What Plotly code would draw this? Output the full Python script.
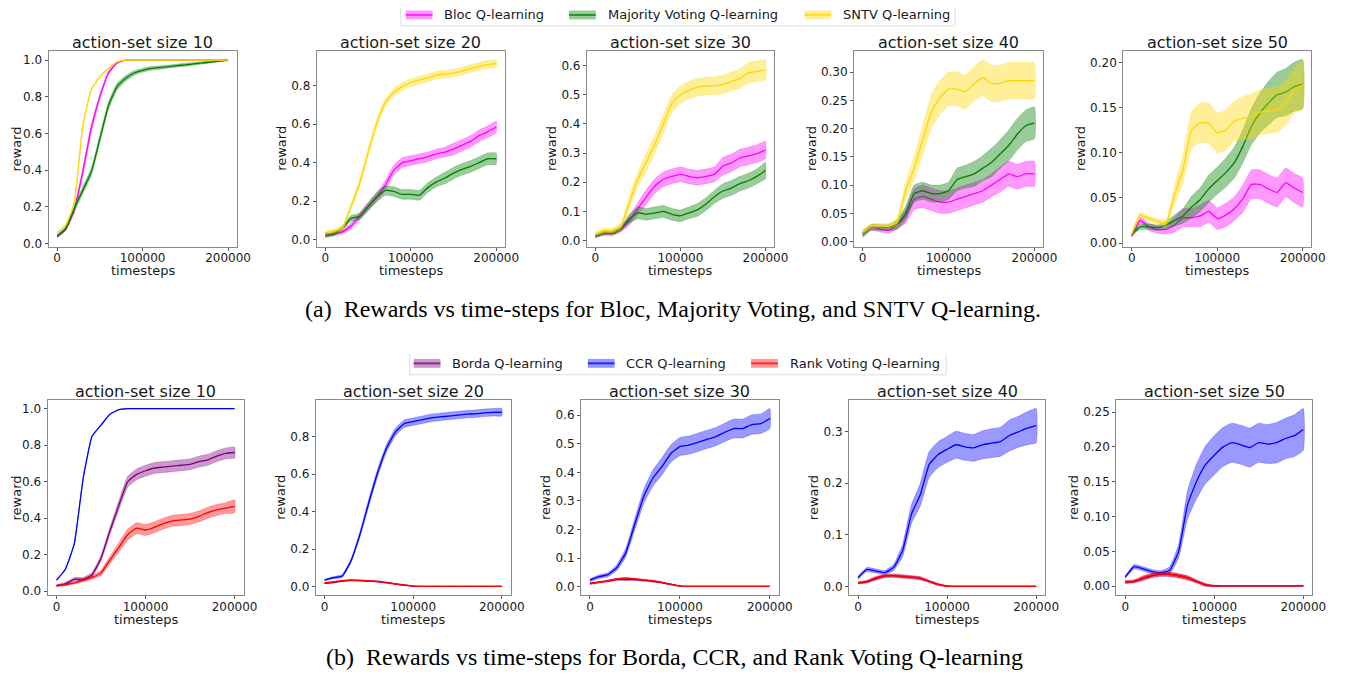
import plotly.graph_objects as go

W, H = 1354, 675
OFF = 8  # browser body margin

# ---------------- data ----------------
X = [0, 10000, 20000, 30000, 40000, 50000, 60000, 70000, 80000, 90000, 100000,
     110000, 120000, 130000, 140000, 150000, 160000, 170000, 180000, 190000, 200000]
X_TICKS = [0, 100000, 200000]
X_TICKTEXT = ["0", "100000", "200000"]

# ---- row (a): Bloc / Majority Voting / SNTV ----
A10_BLOC = [0.04, 0.08, 0.18, 0.39, 0.63, 0.80, 0.93, 0.985, 1.0, 1.0, 1.0, 1.0, 1.0, 1.0, 1.0, 1.0, 1.0, 1.0, 1.0, 1.0, 1.0]
A10_BLOC_E = [0.008, 0.01, 0.015, 0.02, 0.02, 0.015, 0.01, 0.005, 0.002, 0.002, 0.002, 0.002, 0.002, 0.002, 0.002, 0.002, 0.002, 0.002, 0.002, 0.002, 0.002]
A10_MAJ = [0.04, 0.08, 0.19, 0.29, 0.39, 0.57, 0.75, 0.855, 0.90, 0.93, 0.945, 0.955, 0.96, 0.965, 0.97, 0.975, 0.98, 0.985, 0.99, 0.995, 1.0]
A10_MAJ_E = [0.008, 0.01, 0.015, 0.02, 0.02, 0.02, 0.02, 0.018, 0.015, 0.012, 0.01, 0.01, 0.01, 0.008, 0.008, 0.008, 0.007, 0.006, 0.005, 0.004, 0.003]
A10_SNTV = [0.06, 0.10, 0.22, 0.64, 0.84, 0.91, 0.955, 0.99, 1.0, 1.0, 1.0, 1.0, 1.0, 1.0, 1.0, 1.0, 1.0, 1.0, 1.0, 1.0, 1.0]
A10_SNTV_E = [0.003, 0.003, 0.003, 0.003, 0.003, 0.003, 0.003, 0.002, 0.001, 0.001, 0.001, 0.001, 0.001, 0.001, 0.001, 0.001, 0.001, 0.001, 0.001, 0.001, 0.001]

A20_BLOC = [0.025, 0.03, 0.04, 0.07, 0.12, 0.17, 0.22, 0.28, 0.36, 0.40, 0.41, 0.42, 0.43, 0.445, 0.455, 0.47, 0.49, 0.51, 0.54, 0.56, 0.585]
A20_BLOC_E = [0.01, 0.01, 0.01, 0.015, 0.02, 0.02, 0.02, 0.025, 0.025, 0.025, 0.025, 0.025, 0.025, 0.025, 0.025, 0.03, 0.03, 0.03, 0.03, 0.03, 0.03]
A20_MAJ = [0.02, 0.03, 0.06, 0.11, 0.12, 0.17, 0.22, 0.255, 0.25, 0.235, 0.235, 0.23, 0.27, 0.30, 0.32, 0.345, 0.365, 0.38, 0.40, 0.42, 0.42]
A20_MAJ_E = [0.01, 0.01, 0.012, 0.015, 0.015, 0.02, 0.025, 0.025, 0.025, 0.025, 0.025, 0.025, 0.025, 0.025, 0.03, 0.03, 0.03, 0.03, 0.03, 0.03, 0.03]
A20_SNTV = [0.035, 0.045, 0.06, 0.17, 0.29, 0.45, 0.60, 0.71, 0.765, 0.795, 0.815, 0.83, 0.84, 0.855, 0.86, 0.865, 0.875, 0.89, 0.90, 0.91, 0.915]
A20_SNTV_E = [0.01, 0.01, 0.01, 0.015, 0.02, 0.02, 0.02, 0.02, 0.02, 0.02, 0.02, 0.02, 0.02, 0.02, 0.02, 0.02, 0.02, 0.02, 0.02, 0.02, 0.02]

A30_BLOC = [0.015, 0.025, 0.025, 0.04, 0.068, 0.11, 0.15, 0.187, 0.21, 0.22, 0.227, 0.22, 0.215, 0.22, 0.227, 0.255, 0.266, 0.283, 0.29, 0.298, 0.31]
A30_BLOC_E = [0.005, 0.008, 0.008, 0.01, 0.015, 0.02, 0.025, 0.025, 0.025, 0.025, 0.025, 0.025, 0.025, 0.025, 0.025, 0.03, 0.03, 0.03, 0.03, 0.03, 0.03]
A30_MAJ = [0.015, 0.025, 0.025, 0.04, 0.075, 0.095, 0.09, 0.095, 0.10, 0.09, 0.085, 0.095, 0.105, 0.125, 0.15, 0.17, 0.18, 0.195, 0.205, 0.22, 0.24]
A30_MAJ_E = [0.005, 0.005, 0.005, 0.008, 0.015, 0.02, 0.02, 0.02, 0.02, 0.02, 0.02, 0.02, 0.022, 0.022, 0.022, 0.025, 0.025, 0.025, 0.025, 0.025, 0.028]
A30_SNTV = [0.023, 0.034, 0.034, 0.05, 0.13, 0.21, 0.27, 0.33, 0.40, 0.47, 0.50, 0.515, 0.525, 0.53, 0.53, 0.535, 0.545, 0.555, 0.575, 0.58, 0.585]
A30_SNTV_E = [0.008, 0.008, 0.008, 0.01, 0.02, 0.025, 0.03, 0.03, 0.03, 0.03, 0.03, 0.03, 0.03, 0.03, 0.03, 0.032, 0.032, 0.032, 0.035, 0.035, 0.035]

A40_BLOC = [0.015, 0.025, 0.022, 0.02, 0.03, 0.045, 0.075, 0.08, 0.075, 0.07, 0.07, 0.075, 0.08, 0.085, 0.09, 0.10, 0.11, 0.12, 0.115, 0.12, 0.12]
A40_BLOC_E = [0.005, 0.005, 0.005, 0.005, 0.008, 0.012, 0.018, 0.02, 0.02, 0.02, 0.02, 0.02, 0.02, 0.02, 0.02, 0.02, 0.022, 0.022, 0.022, 0.022, 0.022]
A40_MAJ = [0.012, 0.025, 0.025, 0.025, 0.03, 0.05, 0.085, 0.09, 0.085, 0.085, 0.09, 0.11, 0.115, 0.12, 0.13, 0.14, 0.155, 0.17, 0.19, 0.205, 0.21]
A40_MAJ_E = [0.005, 0.005, 0.005, 0.005, 0.008, 0.012, 0.015, 0.015, 0.015, 0.015, 0.015, 0.02, 0.02, 0.022, 0.022, 0.025, 0.025, 0.027, 0.028, 0.028, 0.028]
A40_SNTV = [0.016, 0.028, 0.028, 0.028, 0.035, 0.09, 0.13, 0.18, 0.23, 0.255, 0.27, 0.27, 0.265, 0.28, 0.29, 0.28, 0.28, 0.285, 0.285, 0.285, 0.285]
A40_SNTV_E = [0.004, 0.004, 0.004, 0.004, 0.006, 0.015, 0.02, 0.025, 0.03, 0.03, 0.03, 0.03, 0.03, 0.03, 0.032, 0.032, 0.032, 0.032, 0.032, 0.032, 0.032]

A50_BLOC = [0.008, 0.025, 0.018, 0.015, 0.015, 0.02, 0.028, 0.028, 0.03, 0.035, 0.027, 0.031, 0.038, 0.049, 0.065, 0.065, 0.06, 0.056, 0.067, 0.061, 0.056]
A50_BLOC_E = [0.002, 0.003, 0.004, 0.004, 0.005, 0.008, 0.01, 0.01, 0.012, 0.012, 0.012, 0.013, 0.013, 0.015, 0.016, 0.016, 0.016, 0.016, 0.016, 0.016, 0.016]
A50_MAJ = [0.01, 0.018, 0.018, 0.017, 0.02, 0.025, 0.03, 0.04, 0.048, 0.06, 0.069, 0.078, 0.089, 0.107, 0.129, 0.144, 0.155, 0.164, 0.167, 0.173, 0.176]
A50_MAJ_E = [0.002, 0.003, 0.003, 0.003, 0.004, 0.006, 0.008, 0.012, 0.013, 0.015, 0.015, 0.016, 0.017, 0.018, 0.02, 0.022, 0.024, 0.025, 0.026, 0.027, 0.027]
A50_SNTV = [0.01, 0.031, 0.027, 0.024, 0.022, 0.053, 0.082, 0.125, 0.133, 0.133, 0.122, 0.125, 0.135, 0.138, 0.14, 0.145, 0.146, 0.148, 0.155, 0.169, 0.175]
A50_SNTV_E = [0.002, 0.003, 0.003, 0.003, 0.004, 0.01, 0.015, 0.02, 0.022, 0.022, 0.022, 0.022, 0.022, 0.024, 0.025, 0.025, 0.025, 0.025, 0.025, 0.025, 0.027]

# ---- row (b): Borda / CCR / Rank Voting ----
B10_BORDA = [0.03, 0.04, 0.065, 0.065, 0.09, 0.18, 0.33, 0.47, 0.60, 0.64, 0.66, 0.675, 0.68, 0.685, 0.69, 0.695, 0.71, 0.72, 0.74, 0.755, 0.76]
B10_BORDA_E = [0.005, 0.008, 0.01, 0.01, 0.012, 0.015, 0.02, 0.025, 0.03, 0.03, 0.03, 0.03, 0.03, 0.03, 0.03, 0.03, 0.03, 0.03, 0.03, 0.03, 0.03]
B10_CCR = [0.06, 0.12, 0.26, 0.62, 0.85, 0.91, 0.97, 0.995, 1.0, 1.0, 1.0, 1.0, 1.0, 1.0, 1.0, 1.0, 1.0, 1.0, 1.0, 1.0, 1.0]
B10_CCR_E = [0.002, 0.002, 0.002, 0.002, 0.002, 0.002, 0.002, 0.001, 0.001, 0.001, 0.001, 0.001, 0.001, 0.001, 0.001, 0.001, 0.001, 0.001, 0.001, 0.001, 0.001]
B10_RANK = [0.03, 0.035, 0.045, 0.06, 0.075, 0.10, 0.17, 0.24, 0.31, 0.345, 0.335, 0.35, 0.37, 0.385, 0.39, 0.395, 0.41, 0.43, 0.445, 0.455, 0.465]
B10_RANK_E = [0.004, 0.005, 0.006, 0.008, 0.01, 0.015, 0.02, 0.025, 0.03, 0.03, 0.03, 0.03, 0.03, 0.03, 0.03, 0.03, 0.03, 0.03, 0.03, 0.03, 0.035]

B20_BORDA = [0.018, 0.022, 0.03, 0.033, 0.032, 0.03, 0.027, 0.021, 0.014, 0.008, 0.003, 0.001, 0.001, 0.001, 0.001, 0.001, 0.001, 0.001, 0.001, 0.001, 0.001]
B20_CCR = [0.035, 0.048, 0.057, 0.14, 0.28, 0.45, 0.61, 0.74, 0.825, 0.87, 0.88, 0.89, 0.90, 0.905, 0.91, 0.915, 0.92, 0.922, 0.927, 0.93, 0.93]
B20_CCR_E = [0.005, 0.006, 0.008, 0.01, 0.015, 0.02, 0.02, 0.02, 0.02, 0.02, 0.02, 0.02, 0.02, 0.02, 0.02, 0.02, 0.02, 0.02, 0.02, 0.02, 0.02]
B20_RANK = [0.02, 0.025, 0.032, 0.035, 0.033, 0.03, 0.028, 0.022, 0.015, 0.008, 0.003, 0.001, 0.001, 0.001, 0.001, 0.001, 0.001, 0.001, 0.001, 0.001, 0.001]

B30_BORDA = [0.012, 0.016, 0.02, 0.025, 0.025, 0.025, 0.022, 0.019, 0.014, 0.008, 0.002, 0.001, 0.001, 0.001, 0.001, 0.001, 0.001, 0.001, 0.001, 0.001, 0.001]
B30_CCR = [0.023, 0.035, 0.042, 0.067, 0.12, 0.22, 0.317, 0.38, 0.42, 0.466, 0.49, 0.495, 0.505, 0.515, 0.525, 0.54, 0.553, 0.553, 0.567, 0.57, 0.588]
B30_CCR_E = [0.005, 0.006, 0.007, 0.01, 0.015, 0.02, 0.025, 0.028, 0.03, 0.03, 0.032, 0.032, 0.032, 0.032, 0.032, 0.032, 0.033, 0.033, 0.034, 0.034, 0.035]
B30_RANK = [0.01, 0.015, 0.02, 0.027, 0.03, 0.027, 0.023, 0.02, 0.015, 0.008, 0.002, 0.001, 0.001, 0.001, 0.001, 0.001, 0.001, 0.001, 0.001, 0.001, 0.001]

B40_BORDA = [0.007, 0.009, 0.015, 0.02, 0.021, 0.019, 0.018, 0.016, 0.01, 0.004, 0.001, 0.0005, 0.0005, 0.0005, 0.0005, 0.0005, 0.0005, 0.0005, 0.0005, 0.0005, 0.0005]
B40_CCR = [0.017, 0.033, 0.03, 0.027, 0.037, 0.069, 0.14, 0.178, 0.236, 0.255, 0.265, 0.274, 0.27, 0.268, 0.274, 0.277, 0.28, 0.292, 0.299, 0.306, 0.311]
B40_CCR_E = [0.003, 0.004, 0.004, 0.004, 0.006, 0.012, 0.018, 0.022, 0.025, 0.025, 0.025, 0.026, 0.026, 0.026, 0.027, 0.028, 0.028, 0.03, 0.03, 0.032, 0.033]
B40_RANK = [0.007, 0.01, 0.017, 0.021, 0.021, 0.02, 0.018, 0.016, 0.01, 0.004, 0.001, 0.0005, 0.0005, 0.0005, 0.0005, 0.0005, 0.0005, 0.0005, 0.0005, 0.0005, 0.0005]

B50_BORDA = [0.006, 0.007, 0.011, 0.015, 0.017, 0.017, 0.015, 0.012, 0.007, 0.002, 0.0005, 0.0005, 0.0005, 0.0005, 0.0005, 0.0005, 0.0005, 0.0005, 0.0005, 0.0005, 0.0005]
B50_CCR = [0.013, 0.028, 0.025, 0.021, 0.019, 0.023, 0.05, 0.117, 0.15, 0.174, 0.188, 0.20, 0.206, 0.203, 0.199, 0.206, 0.204, 0.206, 0.212, 0.216, 0.225]
B50_CCR_E = [0.002, 0.003, 0.003, 0.003, 0.003, 0.005, 0.01, 0.02, 0.025, 0.027, 0.028, 0.028, 0.028, 0.028, 0.028, 0.028, 0.028, 0.029, 0.029, 0.03, 0.03]
B50_RANK = [0.006, 0.007, 0.012, 0.016, 0.018, 0.017, 0.015, 0.012, 0.007, 0.002, 0.0005, 0.0005, 0.0005, 0.0005, 0.0005, 0.0005, 0.0005, 0.0005, 0.0005, 0.0005, 0.0005]

# small bands for the near-zero curves (row b)
SMALL_E = [0.002, 0.002, 0.003, 0.003, 0.003, 0.003, 0.003, 0.003, 0.002, 0.002, 0.001, 0.0005, 0.0005, 0.0005, 0.0005, 0.0005, 0.0005, 0.0005, 0.0005, 0.0005, 0.0005]

TITLES = ["action-set size 10", "action-set size 20", "action-set size 30",
          "action-set size 40", "action-set size 50"]

YT_A = [["0.0", "0.2", "0.4", "0.6", "0.8", "1.0"],
        ["0.0", "0.2", "0.4", "0.6", "0.8"],
        ["0.0", "0.1", "0.2", "0.3", "0.4", "0.5", "0.6"],
        ["0.00", "0.05", "0.10", "0.15", "0.20", "0.25", "0.30"],
        ["0.00", "0.05", "0.10", "0.15", "0.20"]]
YT_B = [["0.0", "0.2", "0.4", "0.6", "0.8", "1.0"],
        ["0.0", "0.2", "0.4", "0.6", "0.8"],
        ["0.0", "0.1", "0.2", "0.3", "0.4", "0.5", "0.6"],
        ["0.0", "0.1", "0.2", "0.3"],
        ["0.00", "0.05", "0.10", "0.15", "0.20", "0.25"]]

NAMES_A = ["Bloc Q-learning", "Majority Voting Q-learning", "SNTV Q-learning"]
NAMES_B = ["Borda Q-learning", "CCR Q-learning", "Rank Voting Q-learning"]
CAPTION_A = "(a)  Rewards vs time-steps for Bloc, Majority Voting, and SNTV Q-learning."
CAPTION_B = "(b)  Rewards vs time-steps for Borda, CCR, and Rank Voting Q-learning"

# ---------------- styles ----------------
COL_A = ["#ff00ff", "#008000", "#ffd700"]
COL_B = ["#800080", "#0000ff", "#ff0000"]
ALPHA = 0.4


def rgba(hexc, a):
    h = hexc.lstrip("#")
    return "rgba(%d,%d,%d,%.2f)" % (int(h[0:2], 16), int(h[2:4], 16), int(h[4:6], 16), a)


PANELS_A = [
    [(A10_BLOC, A10_BLOC_E), (A10_MAJ, A10_MAJ_E), (A10_SNTV, A10_SNTV_E)],
    [(A20_BLOC, A20_BLOC_E), (A20_MAJ, A20_MAJ_E), (A20_SNTV, A20_SNTV_E)],
    [(A30_BLOC, A30_BLOC_E), (A30_MAJ, A30_MAJ_E), (A30_SNTV, A30_SNTV_E)],
    [(A40_BLOC, A40_BLOC_E), (A40_MAJ, A40_MAJ_E), (A40_SNTV, A40_SNTV_E)],
    [(A50_BLOC, A50_BLOC_E), (A50_MAJ, A50_MAJ_E), (A50_SNTV, A50_SNTV_E)],
]
PANELS_B = [
    [(B10_BORDA, B10_BORDA_E), (B10_CCR, B10_CCR_E), (B10_RANK, B10_RANK_E)],
    [(B20_BORDA, SMALL_E), (B20_CCR, B20_CCR_E), (B20_RANK, SMALL_E)],
    [(B30_BORDA, SMALL_E), (B30_CCR, B30_CCR_E), (B30_RANK, SMALL_E)],
    [(B40_BORDA, SMALL_E), (B40_CCR, B40_CCR_E), (B40_RANK, SMALL_E)],
    [(B50_BORDA, SMALL_E), (B50_CCR, B50_CCR_E), (B50_RANK, SMALL_E)],
]

# frame positions in page pixels
FR_A = [(49, 239), (320, 510), (593, 782), (863, 1054), (1135, 1325)]
FR_B = [(48, 246), (319, 516), (587, 787), (858, 1056), (1128, 1326)]
ROW_A_Y = (51, 248)
ROW_B_Y = (402, 599)

FW, FH = W - 2 * OFF, H - OFF


def px(x):
    return (x - OFF) / FW


def py(y):
    return 1 - (y - OFF) / FH


fig = go.Figure()
annotations = []
shapes = []
layout_axes = {}

FONT = "DejaVu Sans"
TXT = "#1a1a1a"
LSHAPE = dict(shape="spline", smoothing=0.4)

idx = 0
for rowi, (panels, cols, frames, yr, yts) in enumerate([
        (PANELS_A, COL_A, FR_A, ROW_A_Y, YT_A),
        (PANELS_B, COL_B, FR_B, ROW_B_Y, YT_B)]):
    for p, series in enumerate(panels):
        idx += 1
        xa = "x" if idx == 1 else "x%d" % idx
        ya = "y" if idx == 1 else "y%d" % idx
        lo_all, hi_all = [], []
        for (mean, err), c in zip(series, cols):
            up = [m + e for m, e in zip(mean, err)]
            lo = [m - e for m, e in zip(mean, err)]
            lo_all += lo
            hi_all += up
            fig.add_trace(go.Scatter(
                x=X + X[::-1], y=up + lo[::-1], fill="toself",
                fillcolor=rgba(c, ALPHA), line=dict(width=0.6, color=rgba(c, ALPHA), **LSHAPE),
                hoverinfo="skip", showlegend=False, xaxis=xa, yaxis=ya))
            fig.add_trace(go.Scatter(
                x=X, y=mean, mode="lines", line=dict(color=c, width=1.3, **LSHAPE),
                showlegend=False, xaxis=xa, yaxis=ya))
        lo_v, hi_v = min(lo_all), max(hi_all)
        pad = 0.05 * (hi_v - lo_v)
        x0, x1 = frames[p]
        y0, y1 = yr
        tl = yts[p]
        axkey = "" if idx == 1 else str(idx)
        common = dict(showline=True, mirror=True, linecolor="#8a8a8a", linewidth=1,
                      ticks="outside", ticklen=3, tickcolor="#555555", showgrid=False,
                      zeroline=False, tickfont=dict(family=FONT, size=12, color=TXT))
        layout_axes["xaxis" + axkey] = dict(
            domain=[px(x0), px(x1)], anchor=ya, range=[-10000, 210000],
            tickvals=X_TICKS, ticktext=X_TICKTEXT, ticklabelstandoff=-3, **common)
        layout_axes["yaxis" + axkey] = dict(
            domain=[py(y1), py(y0)], anchor=xa, range=[lo_v - pad, hi_v + pad],
            tickvals=[float(t) for t in tl], ticktext=tl, **common)
        annotations.append(dict(
            x=px((x0 + x1) / 2), y=py(y0 - 8), xref="paper", yref="paper",
            text=TITLES[p], showarrow=False, xanchor="center", yanchor="middle",
            font=dict(family=FONT, size=16, color=TXT)))
        annotations.append(dict(
            x=px((x0 + x1) / 2), y=py(y1 + 24.5), xref="paper", yref="paper",
            text="timesteps", showarrow=False, xanchor="center", yanchor="middle",
            font=dict(family=FONT, size=13, color=TXT)))
        nch = max(len(t) for t in tl)
        rx = max(x0 - (14 + 7.3 * nch), 17)
        annotations.append(dict(
            x=px(rx), y=py((y0 + y1) / 2), xref="paper", yref="paper",
            text="reward", showarrow=False, textangle=-90, xanchor="center", yanchor="middle",
            font=dict(family=FONT, size=13, color=TXT)))


def add_legend(names, cols, sample_x, box, yc):
    bx0, bx1, by0, by1 = box
    shapes.append(dict(type="path", xref="paper", yref="paper",
                       path="M %f,%f L %f,%f L %f,%f L %f,%f" % (
                           px(bx0), py(by0), px(bx0), py(by1), px(bx1), py(by1), px(bx1), py(by0)),
                       line=dict(color="#dcdcdc", width=1)))
    for name, c, sx in zip(names, cols, sample_x):
        shapes.append(dict(type="rect", xref="paper", yref="paper",
                           x0=px(sx), x1=px(sx + 27), y0=py(yc + 4.5), y1=py(yc - 4.5),
                           fillcolor=rgba(c, ALPHA), line=dict(width=0)))
        shapes.append(dict(type="line", xref="paper", yref="paper",
                           x0=px(sx), x1=px(sx + 27), y0=py(yc), y1=py(yc),
                           line=dict(color=rgba(c, 0.75), width=2)))
        annotations.append(dict(
            x=px(sx + 37), y=py(yc), xref="paper", yref="paper", text=name,
            showarrow=False, xanchor="left", yanchor="middle",
            font=dict(family=FONT, size=13, color=TXT)))


add_legend(NAMES_A, COL_A, [410, 575, 813], (405, 965, 8, 26), 15)
add_legend(NAMES_B, COL_B, [418, 594, 759], (414, 956, 356, 377), 365.5)

annotations.append(dict(x=px(680), y=py(311), xref="paper", yref="paper", text=CAPTION_A,
                        showarrow=False, xanchor="center", yanchor="middle",
                        font=dict(family="Liberation Serif", size=24, color="#000000")))
annotations.append(dict(x=px(682), y=py(661), xref="paper", yref="paper", text=CAPTION_B,
                        showarrow=False, xanchor="center", yanchor="middle",
                        font=dict(family="Liberation Serif", size=24, color="#000000")))

fig.update_layout(
    width=FW, height=FH, margin=dict(l=0, r=0, t=0, b=0),
    paper_bgcolor="white", plot_bgcolor="white", showlegend=False,
    annotations=annotations, shapes=shapes, **layout_axes)

fig.write_html("out.html")
